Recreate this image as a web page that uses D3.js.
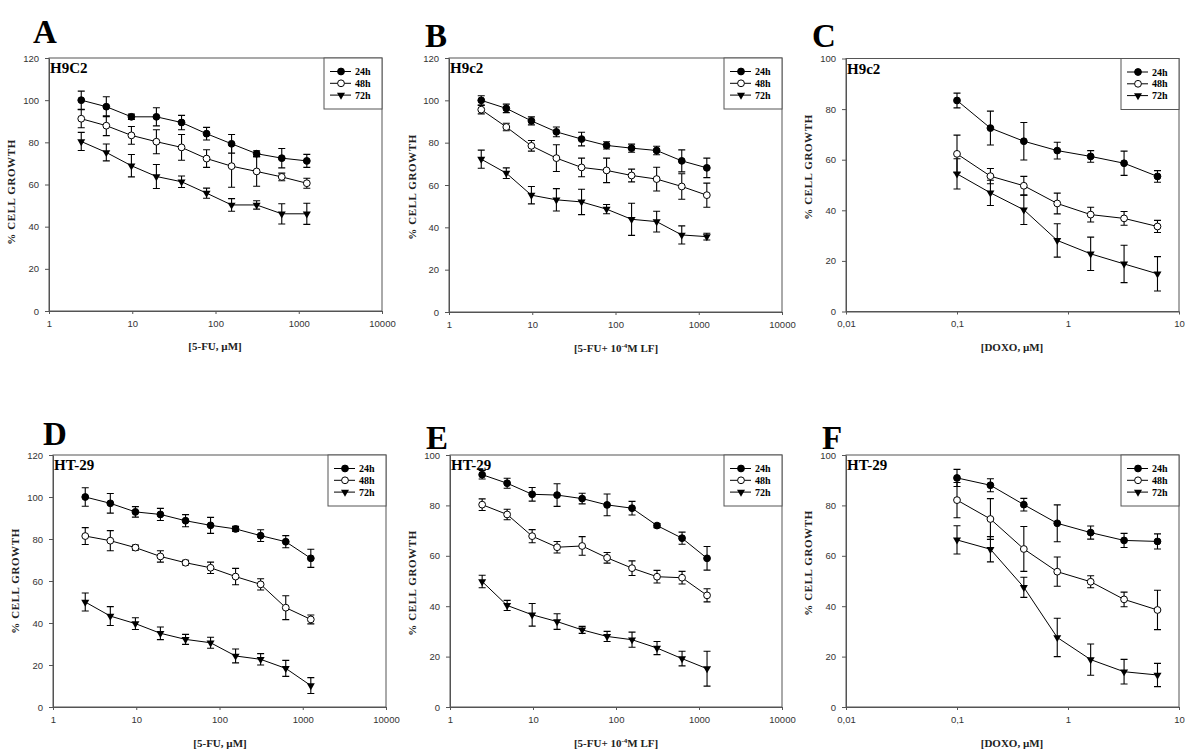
<!DOCTYPE html>
<html>
<head>
<meta charset="utf-8">
<script src="https://cdn.jsdelivr.net/npm/d3@7"></script>
<style>
  body { margin: 0; background: #fff; }
  svg { display: block; }
</style>
</head>
<body>
<div id="chart"></div>
<script>
// doses (x values)
const doses5FU = [2.44, 4.88, 9.77, 19.5, 39.1, 78.1, 156, 312, 625, 1250];
const dosesDOXO = [0.1, 0.2, 0.4, 0.8, 1.6, 3.2, 6.4];

const seriesNames = ["24h", "48h", "72h"];

const yTicks120 = [0, 20, 40, 60, 80, 100, 120];
const yTicks100 = [0, 20, 40, 60, 80, 100];
const xTicks5FU = [1, 10, 100, 1000, 10000];
const xLabels5FU = ["1", "10", "100", "1000", "10000"];
const xTicksDOXO = [0.01, 0.1, 1, 10];
const xLabelsDOXO = ["0,01", "0,1", "1", "10"];

// % cell growth, rows = 24h, 48h, 72h
const meanA = [
  [100, 96.9, 92.1, 92.1, 89.4, 84.1, 79.3, 74.6, 72.5, 71.2],
  [91.2, 87.9, 83.3, 80.3, 77.6, 72.3, 68.7, 66.2, 63.6, 60.6],
  [80.4, 75.2, 68.9, 63.8, 61.3, 55.9, 50.3, 50.3, 46.1, 46.1]
];
const errA = [
  [4.3, 4.7, 1.3, 4.3, 3.4, 3.0, 4.4, 1.4, 4.6, 3.1],
  [4.3, 4.7, 4.2, 5.7, 6.1, 4.2, 10, 7.0, 1.8, 2.4],
  [4.3, 4.0, 5.3, 5.7, 2.7, 2.4, 3.0, 2.0, 4.8, 5.0]
];
const meanB = [
  [100, 96.2, 90.3, 85.1, 81.7, 78.7, 77.4, 76.3, 71.4, 68.1],
  [95.6, 87.4, 78.5, 72.7, 68.3, 66.9, 64.5, 62.8, 59.3, 55.2],
  [72.2, 65.6, 55.2, 53.0, 52.0, 48.6, 43.8, 42.7, 36.4, 35.6]
];
const errB = [
  [2.2, 2.0, 1.9, 2.3, 3.2, 1.7, 1.9, 2.0, 5.2, 4.6],
  [2.0, 1.8, 2.5, 6.3, 4.4, 5.8, 3.0, 5.6, 6.0, 5.7],
  [4.3, 2.5, 4.1, 5.3, 6.0, 2.2, 7.6, 4.9, 4.3, 1.6]
];
const meanC = [
  [83.4, 72.5, 67.3, 63.6, 61.3, 58.6, 53.4],
  [62.3, 53.5, 49.7, 42.7, 38.3, 36.8, 33.6],
  [54.4, 46.9, 40.2, 28.1, 22.8, 18.8, 14.9]
];
const errC = [
  [2.9, 6.7, 7.4, 3.3, 2.3, 4.8, 2.3],
  [7.4, 3.0, 3.7, 4.1, 2.9, 2.7, 2.4],
  [6.0, 5.0, 5.8, 6.6, 6.6, 7.4, 6.8]
];
const meanD = [
  [100, 97, 92.9, 91.7, 88.7, 86.5, 84.8, 81.6, 78.7, 70.8],
  [81.4, 79.2, 75.9, 71.7, 68.7, 66.3, 62.1, 58.4, 47.3, 41.7],
  [50, 43.3, 39.7, 35.1, 32.2, 30.6, 24.3, 22.7, 18.4, 10.2]
];
const errD = [
  [4.4, 4.7, 2.5, 2.9, 2.9, 3.8, 1.2, 2.8, 2.9, 4.3],
  [4.0, 4.8, 1.2, 2.7, 1.1, 2.7, 3.9, 2.7, 5.7, 2.1],
  [4.3, 4.5, 2.8, 3.0, 2.4, 2.6, 3.3, 2.7, 3.8, 3.8]
];
const meanE = [
  [92.2, 88.8, 84.4, 84.1, 82.7, 80.2, 78.9, 72, 67, 59],
  [80.3, 76.4, 67.8, 63.4, 63.9, 59.2, 55.1, 51.7, 51.3, 44.3],
  [49.8, 40.3, 36.6, 33.9, 30.6, 28, 26.7, 23.4, 19.2, 15.2]
];
const errE = [
  [1.7, 2.0, 2.7, 4.5, 2.1, 4.3, 2.7, 0.8, 2.4, 4.7],
  [2.3, 2.1, 2.6, 2.3, 3.7, 2.1, 2.9, 2.5, 2.5, 2.6],
  [2.5, 2.0, 4.5, 3.1, 1.4, 2.0, 3.0, 2.6, 2.9, 6.9]
];
const meanF = [
  [90.9, 88, 80.3, 72.9, 69.2, 66.1, 65.7],
  [82.1, 74.6, 62.7, 53.7, 49.7, 42.7, 38.5],
  [66.3, 62.6, 47.5, 27.6, 18.8, 14, 12.7]
];
const errF = [
  [3.4, 2.6, 2.5, 7.3, 2.6, 2.8, 3.0],
  [7.0, 8.1, 8.9, 5.8, 2.4, 2.9, 7.8],
  [5.6, 5.0, 4.0, 7.6, 6.2, 4.9, 4.6]
];

// panel layout
const panels = [
  { letter: "A", lx: 33, ly: 43, cell: "H9C2", xTitle: "fu", left: 49, top: 58, w: 333, h: 253,
    yMax: 120, yTicks: yTicks120, doses: doses5FU, xTicks: xTicks5FU, xLabels: xLabels5FU,
    means: meanA, errs: errA, ytx: 11, yty: 192, xtx: 215, xty: 350 },
  { letter: "B", lx: 425, ly: 47, cell: "H9c2", xTitle: "lf", left: 449, top: 58, w: 333, h: 254,
    yMax: 120, yTicks: yTicks120, doses: doses5FU, xTicks: xTicks5FU, xLabels: xLabels5FU,
    means: meanB, errs: errB, ytx: 412, yty: 187, xtx: 616, xty: 352 },
  { letter: "C", lx: 812, ly: 47, cell: "H9c2", xTitle: "doxo", left: 846, top: 58.5, w: 333, h: 253,
    yMax: 100, yTicks: yTicks100, doses: dosesDOXO, xTicks: xTicksDOXO, xLabels: xLabelsDOXO,
    means: meanC, errs: errC, ytx: 808, yty: 167, xtx: 1012, xty: 351 },
  { letter: "D", lx: 43, ly: 445, cell: "HT-29", xTitle: "fu", left: 53, top: 455, w: 333, h: 252,
    yMax: 120, yTicks: yTicks120, doses: doses5FU, xTicks: xTicks5FU, xLabels: xLabels5FU,
    means: meanD, errs: errD, ytx: 15, yty: 581, xtx: 220, xty: 747 },
  { letter: "E", lx: 426, ly: 449, cell: "HT-29", xTitle: "lf", left: 450, top: 455, w: 332, h: 252,
    yMax: 100, yTicks: yTicks100, doses: doses5FU, xTicks: xTicks5FU, xLabels: xLabels5FU,
    means: meanE, errs: errE, ytx: 412, yty: 583, xtx: 616, xty: 747 },
  { letter: "F", lx: 822, ly: 449, cell: "HT-29", xTitle: "doxo", left: 846, top: 455, w: 333, h: 252,
    yMax: 100, yTicks: yTicks100, doses: dosesDOXO, xTicks: xTicksDOXO, xLabels: xLabelsDOXO,
    means: meanF, errs: errF, ytx: 808, yty: 563, xtx: 1012, xty: 747 }
];

const serif = "'Liberation Serif', 'Times New Roman', serif";
const sans = "'Liberation Sans', Arial, sans-serif";
const frameColor = "#555";

const svg = d3.select("#chart")
  .append("svg")
  .attr("width", 1200)
  .attr("height", 755);

const triangle = d3.symbol().type(d3.symbolTriangle).size(28);

function drawMarker(sel, si) {
  if (si === 2) {
    sel.append("path")
      .attr("d", triangle)
      .attr("transform", d => `translate(${d.px},${d.py}) rotate(180)`)
      .attr("fill", "#000");
  } else {
    sel.append("circle")
      .attr("cx", d => d.px)
      .attr("cy", d => d.py)
      .attr("r", 3.4)
      .attr("fill", si === 0 ? "#000" : "#fff")
      .attr("stroke", "#000")
      .attr("stroke-width", 1);
  }
}

panels.forEach(p => {
  const x = d3.scaleLog().domain([p.xTicks[0], p.xTicks[p.xTicks.length - 1]]).range([p.left, p.left + p.w]);
  const y = d3.scaleLinear().domain([0, p.yMax]).range([p.top + p.h, p.top]);
  const g = svg.append("g");

  // x axis
  const xa = g.append("g")
    .attr("transform", `translate(0,${p.top + p.h})`)
    .call(d3.axisBottom(x).tickValues(p.xTicks).tickFormat((d, i) => p.xLabels[i])
      .tickSize(3).tickSizeOuter(0).tickPadding(6));
  // y axis
  const ya = g.append("g")
    .attr("transform", `translate(${p.left},0)`)
    .call(d3.axisLeft(y).tickValues(p.yTicks).tickSize(4).tickSizeOuter(0).tickPadding(6));

  [xa, ya].forEach(a => {
    a.select(".domain").attr("stroke", frameColor);
    a.selectAll(".tick line").attr("stroke", frameColor);
    a.selectAll(".tick text")
      .attr("fill", "#333")
      .style("font-family", sans)
      .style("font-size", "9.5px");
  });

  // plot frame
  g.append("rect")
    .attr("x", p.left).attr("y", p.top)
    .attr("width", p.w).attr("height", p.h)
    .attr("fill", "none")
    .attr("stroke", frameColor)
    .attr("stroke-width", 1);

  const line = d3.line().x(d => d.px).y(d => d.py);

  const allPts = p.means.map((vals, si) => vals.map((v, i) => ({
    px: x(p.doses[i]), py: y(v),
    top: y(v + p.errs[si][i]), bot: y(v - p.errs[si][i])
  })));

  // error bars and lines first
  allPts.forEach(pts => {
    g.append("g").selectAll("path")
      .data(pts)
      .join("path")
      .attr("d", d => `M${d.px - 3.5},${d.top}H${d.px + 3.5}M${d.px},${d.top}V${d.bot}M${d.px - 3.5},${d.bot}H${d.px + 3.5}`)
      .attr("stroke", "#000")
      .attr("stroke-width", 1.1)
      .attr("fill", "none");
    g.append("path")
      .datum(pts)
      .attr("d", line)
      .attr("stroke", "#000")
      .attr("stroke-width", 1)
      .attr("fill", "none");
  });

  // markers
  allPts.forEach((pts, si) => {
    const mg = g.append("g").selectAll("g").data(pts).join("g");
    drawMarker(mg, si);
  });

  // legend
  const lw = 58, lh = 51;
  const lx = p.left + p.w - lw, ly = p.top;
  g.append("rect")
    .attr("x", lx).attr("y", ly)
    .attr("width", lw).attr("height", lh)
    .attr("fill", "#fff")
    .attr("stroke", frameColor);
  seriesNames.forEach((name, si) => {
    const ry = ly + 13.5 + si * 11.8;
    g.append("line")
      .attr("x1", lx + 6).attr("x2", lx + 27)
      .attr("y1", ry).attr("y2", ry)
      .attr("stroke", "#000");
    const mg = g.append("g").selectAll("g").data([{ px: lx + 17, py: ry }]).join("g");
    drawMarker(mg, si);
    g.append("text")
      .attr("x", lx + 31).attr("y", ry + 3.5)
      .style("font-family", serif)
      .style("font-weight", "bold")
      .style("font-size", "10px")
      .text(name);
  });

  // cell line label
  g.append("text")
    .attr("x", p.left + 1).attr("y", p.top + 15)
    .style("font-family", serif)
    .style("font-weight", "bold")
    .style("font-size", "15px")
    .text(p.cell);

  // panel letter
  g.append("text")
    .attr("x", p.lx).attr("y", p.ly)
    .style("font-family", serif)
    .style("font-weight", "bold")
    .style("font-size", "33px")
    .text(p.letter);

  // y title
  g.append("text")
    .attr("transform", `translate(${p.ytx + 4},${p.yty}) rotate(-90)`)
    .attr("text-anchor", "middle")
    .style("font-family", serif)
    .style("font-weight", "bold")
    .style("font-size", "11px")
    .style("letter-spacing", "0.6px")
    .attr("fill", "#222")
    .text("% CELL GROWTH");

  // x title
  const xt = g.append("text")
    .attr("x", p.xtx).attr("y", p.xty)
    .attr("text-anchor", "middle")
    .style("font-family", serif)
    .style("font-weight", "bold")
    .style("font-size", "11px")
    .attr("fill", "#222");
  if (p.xTitle === "fu") {
    xt.text("[5-FU, \u00b5M]");
  } else if (p.xTitle === "doxo") {
    xt.text("[DOXO, \u00b5M]");
  } else {
    xt.append("tspan").text("[5-FU+ 10");
    xt.append("tspan").attr("dy", -4).style("font-size", "7px").text("-4");
    xt.append("tspan").attr("dy", 4).text("M LF]");
  }
});
</script>
</body>
</html>
